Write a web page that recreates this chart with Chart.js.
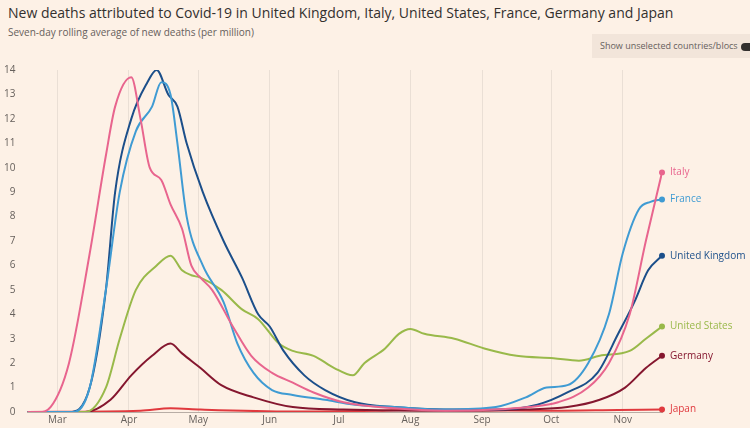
<!DOCTYPE html>
<html><head><meta charset="utf-8">
<script src="https://cdn.jsdelivr.net/npm/chart.js@4"></script>
<style>
body{margin:0;background:#fdf1e6;font-family:"Open Sans",sans-serif;}
#wrap{position:relative;width:750px;height:428px;}
#title{position:absolute;left:8px;top:3px;font-size:14px;color:#33302e;}
#sub{position:absolute;left:8px;top:25px;font-size:10px;color:#66605c;}
#toggle{position:absolute;left:592px;top:34px;width:158px;height:24px;background:#f2e5da;font-size:9px;color:#66605c;line-height:24px;padding-left:8px;box-sizing:border-box;white-space:nowrap;}
#toggle span{display:inline-block;width:12px;height:8px;border-radius:4px;background:#33302e;vertical-align:middle;margin-left:3px;}
#c{position:absolute;left:0;top:60px;}
</style></head><body>
<div id="wrap">
<div id="title">New deaths attributed to Covid-19 in United Kingdom, Italy, United States, France, Germany and Japan</div>
<div id="sub">Seven-day rolling average of new deaths (per million)</div>
<div id="toggle">Show unselected countries/blocs<span></span></div>
<canvas id="c" width="750" height="368"></canvas>
</div>
<script>
// x values are day-of-year (2020)
const monthDays = [60, 91, 121, 152, 182, 213, 244, 274, 305];
const monthLabels = ["Mar", "Apr", "May", "Jun", "Jul", "Aug", "Sep", "Oct", "Nov"];

const italyDays = [47, 52, 57, 65, 74, 81, 85, 92, 96, 100, 105, 109, 114, 118, 122, 127, 136, 144, 153, 162, 171, 184, 206, 228, 250, 264, 277, 290, 299, 308, 315, 322];
const italyVals = [0, 0, 0.2, 2, 6.5, 10.5, 12.5, 13.7, 12, 10, 9.5, 8.5, 7.5, 6, 5.5, 5, 3.5, 2.3, 1.6, 1.2, 0.8, 0.4, 0.15, 0.05, 0.1, 0.2, 0.4, 1, 2, 4, 7, 9.8];

const ukDays = [47, 65, 74, 81, 85, 92, 99, 103, 108, 112, 116, 123, 132, 140, 147, 152, 158, 167, 176, 189, 206, 228, 250, 268, 281, 294, 303, 310, 316, 322];
const ukVals = [0, 0, 1, 5, 9, 12, 13.5, 14, 13, 12.5, 11, 9, 7, 5.5, 4, 3.5, 2.5, 1.5, 0.9, 0.4, 0.2, 0.1, 0.1, 0.3, 0.8, 1.6, 3.2, 4.5, 5.8, 6.4];

const franceDays = [47, 67, 74, 81, 87, 94, 101, 105, 109, 112, 116, 123, 132, 138, 145, 153, 162, 176, 189, 206, 228, 250, 263, 272, 281, 290, 299, 305, 312, 317, 322];
const franceVals = [0, 0, 1, 5, 9, 11.5, 12.5, 13.5, 13, 11, 8, 6, 4.5, 2.8, 1.6, 0.9, 0.7, 0.5, 0.3, 0.2, 0.1, 0.2, 0.6, 1, 1.1, 2, 4, 6.5, 8.3, 8.6, 8.7];

const usDays = [47, 72, 81, 87, 94, 103, 109, 114, 118, 122, 131, 140, 147, 156, 162, 171, 180, 188, 193, 202, 208, 213, 219, 232, 245, 259, 275, 286, 295, 308, 315, 322];
const usVals = [0, 0, 1, 3, 5, 6, 6.4, 5.8, 5.6, 5.5, 5, 4.2, 3.8, 2.8, 2.5, 2.3, 1.8, 1.5, 2, 2.6, 3.2, 3.4, 3.2, 3, 2.6, 2.3, 2.2, 2.1, 2.3, 2.5, 3, 3.5];

const germanyDays = [47, 72, 83, 92, 101, 109, 114, 122, 131, 145, 162, 184, 228, 263, 281, 295, 306, 315, 322];
const germanyVals = [0, 0, 0.5, 1.5, 2.3, 2.8, 2.4, 1.8, 1.1, 0.6, 0.2, 0.1, 0.05, 0.1, 0.2, 0.5, 1, 1.8, 2.3];

const japanDays = [47, 96, 109, 122, 162, 198, 215, 228, 272, 303, 322];
const japanVals = [0, 0.05, 0.15, 0.1, 0.02, 0.05, 0.1, 0.08, 0.05, 0.08, 0.1];

const series = [
    { name: "Italy", days: italyDays, vals: italyVals, color: "#e8658e" },
    { name: "France", days: franceDays, vals: franceVals, color: "#3f9bd3" },
    { name: "United Kingdom", days: ukDays, vals: ukVals, color: "#1c4f8a" },
    { name: "United States", days: usDays, vals: usVals, color: "#99b94a" },
    { name: "Germany", days: germanyDays, vals: germanyVals, color: "#85172f" },
    { name: "Japan", days: japanDays, vals: japanVals, color: "#e0393e" },
];

const endLabels = {
    id: "endLabels",
    afterDatasetsDraw(chart) {
        const ctx = chart.ctx;
        ctx.save();
        ctx.font = "10px 'Open Sans'";
        ctx.textBaseline = "middle";
        chart.data.datasets.forEach((ds, i) => {
            const pts = chart.getDatasetMeta(i).data;
            const p = pts[pts.length - 1];
            ctx.fillStyle = ds.borderColor;
            ctx.beginPath();
            ctx.arc(p.x, p.y, 3, 0, Math.PI * 2);
            ctx.fill();
            ctx.fillText(ds.label, p.x + 8, p.y);
        });
        ctx.restore();
    },
};

new Chart(document.getElementById("c"), {
    type: "line",
    data: {
        datasets: series.map((s) => ({
            label: s.name,
            data: s.days.map((d, i) => ({ x: d, y: s.vals[i] })),
            borderColor: s.color,
            borderWidth: 2,
            pointRadius: 0,
            cubicInterpolationMode: "monotone",
            fill: false,
        })),
    },
    options: {
        responsive: false,
        animation: false,
        layout: { padding: { left: 0, right: 88, top: 0, bottom: 0 } },
        plugins: { legend: { display: false }, tooltip: { enabled: false } },
        scales: {
            x: {
                type: "linear",
                min: 47,
                max: 322,
                afterBuildTicks: (ax) => { ax.ticks = monthDays.map((v) => ({ value: v })); },
                ticks: {
                    autoSkip: false,
                    maxRotation: 0,
                    callback: (v) => monthLabels[monthDays.indexOf(v)],
                    color: "#66605c",
                    font: { size: 10, family: "Open Sans" },
                    padding: 2,
                },
                grid: { color: "#eadfd5", drawTicks: false },
                border: { display: true, color: "#b8ada5" },
            },
            y: {
                min: 0,
                max: 14,
                ticks: { stepSize: 1, color: "#66605c", font: { size: 10, family: "Open Sans" }, padding: 4 },
                grid: { display: false },
                border: { display: false },
            },
        },
    },
    plugins: [endLabels],
});
</script>
</body></html>
